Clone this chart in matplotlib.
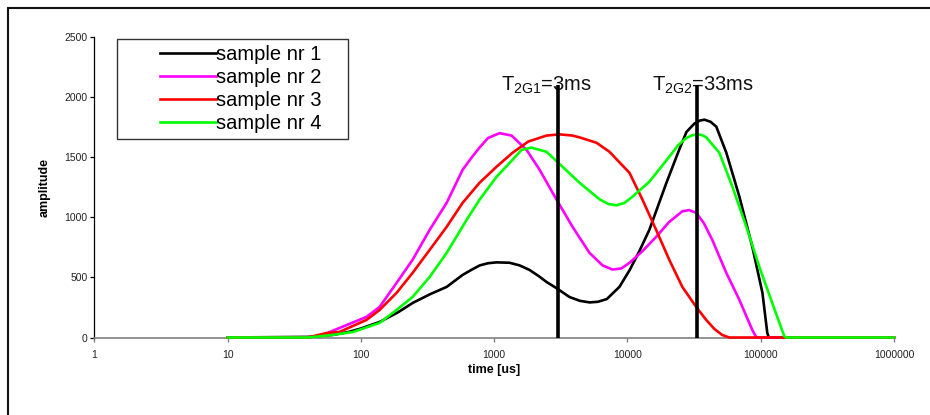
import matplotlib
matplotlib.use("Agg")
import matplotlib.pyplot as plt
from matplotlib.patches import Rectangle
from matplotlib.legend_handler import HandlerLine2D
from matplotlib.ticker import FixedLocator, FixedFormatter, NullLocator

plt.rcParams['font.family'] = ['Liberation Sans', 'DejaVu Sans']
plt.rcParams['mathtext.fontset'] = 'custom'
plt.rcParams['mathtext.rm'] = 'Liberation Sans'
plt.rcParams['mathtext.it'] = 'Liberation Sans:italic'
plt.rcParams['mathtext.bf'] = 'Liberation Sans:bold'

# ---- data (time in us, amplitude) ----
t1 = [10, 40, 61, 80, 100, 138, 190, 245, 330, 440, 580, 680, 780, 900, 1040, 1300,
      1550, 1840, 2150, 2470, 2940, 3670, 4400, 5200, 6000, 7000, 8700, 10400,
      12300, 14600, 19600, 24000, 27700, 31800, 35000, 37800, 42000, 46400,
      55200, 69200, 86500, 103000, 112000, 115000, 1000000]
a1 = [0, 5, 21, 45, 75, 129, 210, 288, 360, 421, 521, 565, 600, 618, 625, 622,
      600, 562, 512, 462, 410, 337, 305, 292, 297, 320, 421, 562,
      720, 896, 1287, 1540, 1710, 1780, 1805, 1812, 1795, 1754,
      1537, 1171, 754, 371, 37, 0, 0]

t2 = [10, 40, 50, 69, 110, 138, 185, 244, 328, 440, 580, 680, 776, 900, 1096,
      1350, 1745, 2190, 2940, 3870, 5190, 6500, 7730, 9000, 10350, 13000, 16400,
      20500, 25800, 29000, 32800, 37500, 43300, 55200, 69200, 86500, 92700, 1000000]
a2 = [0, 0, 15, 79, 171, 254, 454, 646, 896, 1121, 1396, 1500, 1580, 1660, 1700,
      1680, 1562, 1396, 1146, 921, 704, 600, 565, 575, 621, 720, 837,
      960, 1050, 1060, 1037, 950, 812, 537, 312, 62, 0, 0]

t3 = [10, 40, 55, 69, 110, 138, 185, 244, 328, 440, 580, 776, 1042, 1374, 1800,
      2470, 3090, 3870, 4370, 5860, 7330, 10350, 12970, 16400, 20600, 25800, 32800,
      39000, 45000, 51400, 58000, 1000000]
a3 = [0, 0, 37, 46, 146, 229, 371, 537, 729, 921, 1121, 1287, 1421, 1537, 1630,
      1680, 1690, 1680, 1665, 1620, 1545, 1370, 1146, 896, 646, 421, 254,
      146, 70, 21, 0, 0]

t4 = [10, 40, 61, 87, 138, 185, 244, 328, 440, 621, 776, 1042, 1374, 1600, 1900,
      2470, 3260, 4370, 6170, 7200, 8280, 9500, 10900, 14600, 20600, 24000, 27700,
      30500, 33400, 36000, 39000, 48900, 61300, 78000, 97700, 122000, 150000,
      155000, 1000000]
a4 = [0, 0, 21, 46, 121, 229, 337, 504, 704, 979, 1146, 1337, 1479, 1560, 1580,
      1545, 1420, 1287, 1150, 1110, 1100, 1120, 1171, 1296, 1504, 1600, 1660,
      1682, 1690, 1685, 1665, 1537, 1254, 921, 587, 287, 12, 0, 0]

series = [(t1, a1, 'sample nr 1', '#000000'),
          (t2, a2, 'sample nr 2', '#FF00FF'),
          (t3, a3, 'sample nr 3', '#FF0000'),
          (t4, a4, 'sample nr 4', '#00FF00')]

marker_times = [3000, 33000]
marker_top = 2100
marker_labels = [r'T$_{\mathrm{2G1}}$=3ms', r'T$_{\mathrm{2G2}}$=33ms']
marker_label_x = [1117, 15400]
marker_label_y = 2056

x_ticks = [1, 10, 100, 1000, 10000, 100000, 1000000]
x_tick_labels = ['1', '10', '100', '1000', '10000', '100000', '1000000']
y_ticks = [0, 500, 1000, 1500, 2000, 2500]

# ---- figure ----
fig = plt.figure(figsize=(9.3, 4.15), dpi=100)
ax = fig.add_axes([94.4 / 930, 1 - 337.5 / 415, (894 - 94.4) / 930, (337.5 - 37) / 415])

lines = []
for t, a, lab, col in series:
    ln, = ax.plot(t, a, color=col, lw=1.9, label=lab, clip_on=False, zorder=3,
                  solid_joinstyle='round')
    lines.append(ln)

for mt in marker_times:
    ax.plot([mt, mt], [0, marker_top], color='black', lw=2.6, zorder=4,
            clip_on=False, solid_capstyle='butt')

for lab, lx in zip(marker_labels, marker_label_x):
    ax.text(lx, marker_label_y, lab, fontsize=14.5, ha='left', va='baseline',
            color='#111111', zorder=2)

ax.set_xscale('log')
ax.set_xlim(1, 1000000)
ax.set_ylim(0, 2500)
ax.xaxis.set_major_locator(FixedLocator(x_ticks))
ax.xaxis.set_major_formatter(FixedFormatter(x_tick_labels))
ax.xaxis.set_minor_locator(NullLocator())
ax.set_yticks(y_ticks)

for s in ['top', 'right']:
    ax.spines[s].set_visible(False)
ax.spines['bottom'].set_color('#808080')
ax.spines['bottom'].set_linewidth(1.2)
ax.spines['left'].set_color('black')
ax.spines['left'].set_linewidth(0.9)

ax.tick_params(axis='x', direction='out', length=3, width=1, color='#808080',
               labelsize=7.5, labelcolor='#222222', pad=6)
ax.tick_params(axis='y', direction='out', length=3, width=0.9, color='black',
               labelsize=7.5, labelcolor='#222222', pad=2)

ax.set_xlabel('time [us]', fontsize=9, fontweight='bold', labelpad=3)
ax.set_ylabel('amplitude', fontsize=9, fontweight='bold', labelpad=10)

fs = 14.5
leg_w = (348 - 117) / 799.6
leg = ax.legend(handles=lines, loc='upper left',
                bbox_to_anchor=(0.0283, 0.9933 - 0.5, leg_w, 0.5), mode='expand',
                borderaxespad=0, fontsize=fs, frameon=True, fancybox=False,
                edgecolor='#333333', framealpha=1, handlelength=4.62,
                handletextpad=0.0, labelspacing=0.2, borderpad=0.3,
                handler_map={ln: HandlerLine2D(xpad=1.85) for ln in lines})
leg.get_frame().set_linewidth(1.0)
leg.set_zorder(5)

# outer chart frame (cropped at right and bottom)
fig.patches.append(Rectangle((8 / 930, -0.1), 1.2, 1 - 8 / 415 + 0.1,
                             transform=fig.transFigure, fill=False,
                             edgecolor='#111111', lw=1.5))

fig.savefig('out.png', dpi=100)
